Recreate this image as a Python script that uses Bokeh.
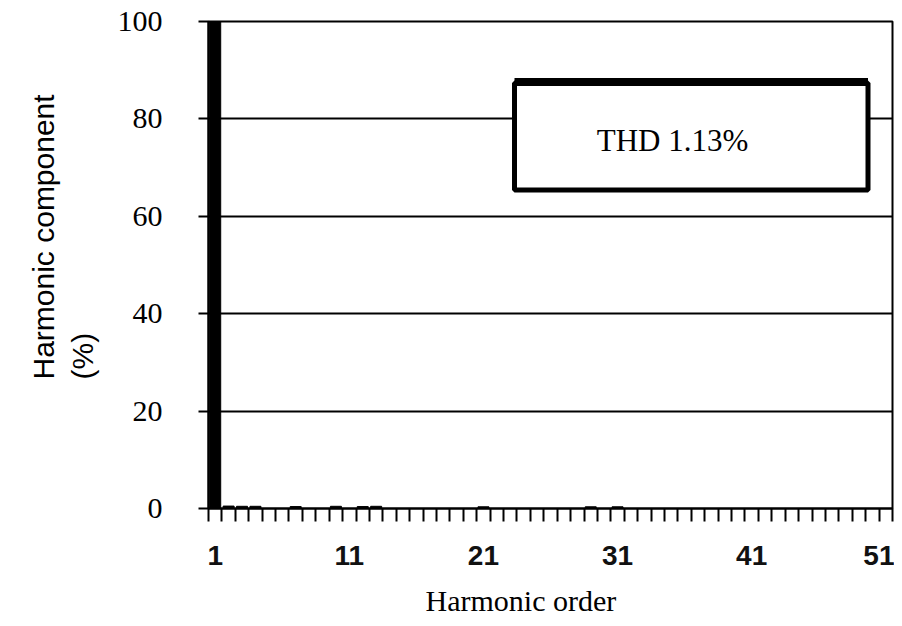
import math
from bokeh.plotting import figure
from bokeh.models import FixedTicker, Label, Range1d, Title
from bokeh.embed import file_html
from bokeh.resources import INLINE

# ---- data ----
harmonics = [1, 2, 3, 4, 7, 10, 12, 13, 21, 29, 31]
components = [100, 0.5, 0.45, 0.45, 0.4, 0.45, 0.4, 0.45, 0.35, 0.35, 0.35]
x_tick_positions = [1, 11, 21, 31, 41, 51]
x_tick_labels = ["1", "11", "21", "31", "41", "51"]
y_ticks = [0, 20, 40, 60, 80, 100]
thd_text = "THD 1.13%"
x_title = "Harmonic order"
y_title = "Harmonic component\n(%)"

# ---- layout ----
ML, MR, MT = 208, 2, 21
FW, FH = 684, 487
X0, X1 = 0.5, 51.5
Y0, Y1 = 0, 100


def dx(px):
    return X0 + (px - ML) * (X1 - X0) / FW


def dy(py):
    return Y0 + (MT + FH - py) * (Y1 - Y0) / FH


p = figure(frame_width=FW, frame_height=FH, output_backend="svg", toolbar_location=None,
           x_range=Range1d(X0, X1), y_range=Range1d(Y0, Y1),
           min_border_left=ML, min_border_right=MR,
           min_border_top=MT, min_border_bottom=10)
p.background_fill_color = "white"
p.border_fill_color = "white"
p.outline_line_color = "black"
p.outline_line_width = 2

# grid
p.xgrid.visible = False
p.ygrid.ticker = FixedTicker(ticks=y_ticks)
p.ygrid.grid_line_color = "black"
p.ygrid.grid_line_width = 2

# y axis
p.yaxis.ticker = FixedTicker(ticks=y_ticks)
p.yaxis.axis_line_color = "black"
p.yaxis.axis_line_width = 2
p.yaxis.major_tick_out = 10
p.yaxis.major_tick_in = 0
p.yaxis.major_tick_line_width = 2
p.yaxis.major_tick_line_color = "black"
p.yaxis.minor_tick_line_color = None
p.yaxis.major_label_text_font = "Liberation Serif"
p.yaxis.major_label_text_font_size = "30px"
p.yaxis.major_label_text_color = "black"
p.yaxis.major_label_standoff = 36

# x axis: labels at 1, 11, ...; ticks between categories
minor = [i + 0.5 for i in range(0, 52)]
p.xaxis.ticker = FixedTicker(ticks=x_tick_positions, minor_ticks=minor)
p.xaxis.major_label_overrides = {t: l for t, l in zip(x_tick_positions, x_tick_labels)}
p.xaxis.axis_line_color = "black"
p.xaxis.axis_line_width = 2
p.xaxis.major_tick_out = 0
p.xaxis.major_tick_in = 0
p.xaxis.major_tick_line_color = None
p.xaxis.minor_tick_out = 13
p.xaxis.minor_tick_in = 0
p.xaxis.minor_tick_line_width = 2
p.xaxis.minor_tick_line_color = "black"
p.xaxis.major_label_text_font = "Liberation Sans"
p.xaxis.major_label_text_font_style = "bold"
p.xaxis.major_label_text_font_size = "28px"
p.xaxis.major_label_text_color = "#111111"
p.xaxis.major_label_standoff = 24

# bars
p.vbar(x=harmonics, top=components, bottom=0, width=0.82,
       fill_color="black", line_color="black", line_width=1)

# THD box
bl, br, bt, bb = dx(514), dx(867.5), dy(82.5), dy(189.5)
p.quad(left=[bl], right=[br], top=[bt], bottom=[bb],
       fill_color="white", line_color="black", line_width=5)
p.segment(x0=[bl], x1=[br], y0=[dy(81.5)], y1=[dy(81.5)],
          line_color="black", line_width=8)
p.add_layout(Label(x=dx(672), y=dy(140), text=thd_text,
                   text_font="Liberation Serif", text_font_size="31px",
                   text_align="center", text_baseline="middle",
                   text_color="black"))

# axis titles (as side-panel titles)
p.add_layout(Title(text=x_title, align="left", offset=425 - ML, standoff=28,
                   text_font="Liberation Serif", text_font_size="30px",
                   text_font_style="normal", text_color="black"), "below")
p.add_layout(Title(text=y_title, align="left", offset=(MT + FH) - 379, standoff=26,
                   vertical_align="top",
                   text_font="Liberation Sans", text_font_size="30px",
                   text_line_height=1.2,
                   text_font_style="normal", text_color="black"), "left")

open("out.html", "w").write(file_html(p, INLINE))
